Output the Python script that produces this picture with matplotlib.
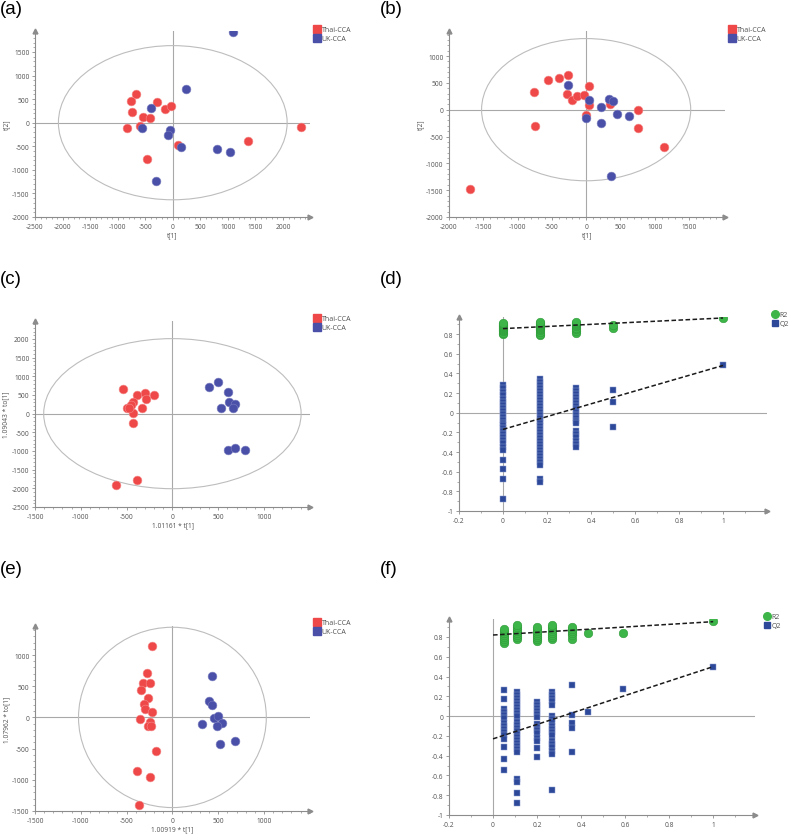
import matplotlib
matplotlib.use("Agg")
import matplotlib.pyplot as plt
import numpy as np
from matplotlib.patches import Ellipse
from matplotlib.lines import Line2D
from matplotlib.ticker import MultipleLocator, FuncFormatter

W, H = 793, 837

# ---- (a) PCA scores ----
a_thai_x = [-660, -750, -740, -540, -410, -280, -140, -40, -830, -600, -470, 90, 1370, 2330]
a_thai_y = [600, 460, 220, 130, 105, 440, 290, 360, -120, -60, -770, -470, -390, -85]
a_uk_x = [1090, 240, -400, -550, -50, -90, 145, 800, 1035, -310]
a_uk_y = [1915, 710, 320, -110, -155, -260, -505, -555, -615, -1235]
a_ellipse = (2075, 1635)

# ---- (b) PCA scores ----
b_thai_x = [-755, -555, -390, -260, -280, -210, -130, -25, 35, 45, -5, 345, 750, 760, -745, 1135, -1700]
b_thai_y = [320, 545, 590, 650, 300, 180, 250, 275, 440, 90, -95, 105, 0, -350, -310, -700, -1470]
b_uk_x = [-260, 45, 210, 335, 390, 450, 625, 210, 0, 360]
b_uk_y = [455, 180, 55, 200, 160, -75, -110, -250, -150, -1230]
b_ellipse = (1525, 1325)

# ---- (c) OPLS-DA scores ----
c_thai_x = [-535, -385, -300, -205, -290, -430, -455, -500, -330, -430, -430, -385, -615, -470]
c_thai_y = [670, 500, 545, 500, 395, 305, 220, 165, 145, 10, -255, -1790, -1920, 150]
c_uk_x = [400, 500, 610, 620, 685, 660, 535, 610, 680, 795]
c_uk_y = [725, 840, 590, 305, 255, 140, 145, -980, -930, -960]
c_ellipse = (1405, 2010)

# ---- (e) OPLS-DA scores ----
e_thai_x = [-225, -280, -320, -240, -340, -270, -310, -295, -220, -350, -245, -270, -235, -180, -390, -245, -365]
e_thai_y = [1145, 705, 555, 545, 440, 310, 220, 140, 90, -25, -75, -145, -140, -540, -860, -950, -1410]
e_uk_x = [430, 400, 430, 450, 500, 545, 490, 325, 520, 680]
e_uk_y = [670, 270, 205, -10, 15, -90, -140, -110, -420, -385]
e_ellipse = (1025, 1445)

# ---- (d) permutation test ----
d_x = [0, 0.167, 0.333, 0.5, 1.0]
d_r2 = [
    [0.80, 0.81, 0.83, 0.84, 0.85, 0.86, 0.87, 0.88, 0.89, 0.90, 0.91],
    [0.79, 0.80, 0.82, 0.84, 0.85, 0.86, 0.87, 0.88, 0.89, 0.90, 0.91, 0.92],
    [0.81, 0.83, 0.85, 0.86, 0.88, 0.89, 0.90, 0.91, 0.92],
    [0.86, 0.89],
    [0.96],
]
d_q2 = [
    [0.28, 0.25, 0.21, 0.18, 0.14, 0.11, 0.08, 0.05, 0.02, -0.01, -0.04, -0.07, -0.10,
     -0.13, -0.16, -0.19, -0.22, -0.25, -0.28, -0.31, -0.35, -0.38, -0.48, -0.57, -0.67, -0.88],
    [0.34, 0.31, 0.28, 0.25, 0.22, 0.19, 0.16, 0.13, 0.10, 0.07, 0.04, 0.01, -0.02, -0.05,
     -0.08, -0.11, -0.14, -0.17, -0.20, -0.23, -0.26, -0.29, -0.32, -0.35, -0.38, -0.41,
     -0.44, -0.47, -0.50, -0.53, -0.67, -0.70],
    [0.25, 0.22, 0.19, 0.16, 0.13, 0.10, 0.07, 0.04, 0.01, -0.02, -0.05, -0.08, -0.11,
     -0.19, -0.22, -0.25, -0.29, -0.32, -0.35],
    [0.23, 0.11, -0.15],
    [0.48],
]
d_r2_line = (0.855, 0.963)
d_q2_line = (-0.17, 0.48)

# ---- (f) permutation test ----
f_x = [0.05, 0.11, 0.2, 0.27, 0.36, 0.43, 0.59, 1.0]
f_r2 = [
    [0.74, 0.76, 0.78, 0.80, 0.82, 0.84, 0.86, 0.88],
    [0.78, 0.80, 0.82, 0.84, 0.86, 0.88, 0.90, 0.92],
    [0.76, 0.78, 0.80, 0.82, 0.84, 0.86, 0.88, 0.90],
    [0.78, 0.80, 0.82, 0.84, 0.86, 0.88, 0.90, 0.92],
    [0.78, 0.82, 0.84, 0.86, 0.88, 0.90],
    [0.845],
    [0.84],
    [0.96],
]
f_q2 = [
    [0.26, 0.17, 0.07, 0.04, 0.01, -0.02, -0.07, -0.10, -0.13, -0.16, -0.19, -0.23, -0.31, -0.43, -0.55],
    [0.24, 0.21, 0.18, 0.15, 0.12, 0.09, 0.06, 0.03, 0.0, -0.06, -0.09, -0.12, -0.15, -0.18,
     -0.21, -0.24, -0.27, -0.30, -0.33, -0.36, -0.64, -0.67, -0.78, -0.88],
    [0.14, 0.11, 0.08, 0.05, 0.02, -0.01, -0.08, -0.11, -0.14, -0.17, -0.22, -0.25, -0.32, -0.41],
    [0.24, 0.21, 0.18, 0.15, 0.11, 0.0, -0.03, -0.06, -0.10, -0.13, -0.16, -0.19, -0.25,
     -0.28, -0.31, -0.35, -0.38, -0.75],
    [0.31, 0.01, -0.07, -0.12, -0.36],
    [0.04],
    [0.27],
    [0.50],
]
f_r2_line = (0.82, 0.955)
f_q2_line = (-0.23, 0.50)

RED = "#ef4848"
BLUE = "#4a4fa8"
GREEN = "#3db548"
QBLUE = "#2d4899"
AXC = "#8c8c8c"
ZEROC = "#a8a8a8"
ELLC = "#bdbdbd"
TXT = "#505050"
TICKFONT = "Open Sans"

fig = plt.figure(figsize=(W / 100, H / 100), dpi=100)


def px_axes(left, top, right, bottom):
    return fig.add_axes([left / W, 1 - bottom / H, (right - left) / W, (bottom - top) / H])


def style_axes(ax, xticks, yticks, xminor, yminor, fmt):
    for s in ["top", "right"]:
        ax.spines[s].set_visible(False)
    for s in ["left", "bottom"]:
        ax.spines[s].set_color(AXC)
        ax.spines[s].set_linewidth(0.8)
    ax.set_xticks(xticks)
    ax.set_yticks(yticks)
    ax.xaxis.set_minor_locator(MultipleLocator(xminor))
    ax.yaxis.set_minor_locator(MultipleLocator(yminor))
    ax.xaxis.set_major_formatter(FuncFormatter(fmt))
    ax.yaxis.set_major_formatter(FuncFormatter(fmt))
    ax.tick_params(which="major", length=2.5, width=0.6, color=AXC, labelsize=4.8,
                   labelcolor=TXT, pad=1.5)
    ax.tick_params(which="minor", length=1.5, width=0.5, color=AXC)
    for lab in ax.get_xticklabels() + ax.get_yticklabels():
        lab.set_family(TICKFONT)
    ax.plot(1, 0, ">", transform=ax.transAxes, clip_on=False, color=AXC, ms=3.5)
    ax.plot(0, 1, "^", transform=ax.transAxes, clip_on=False, color=AXC, ms=3.5)
    ax.set_facecolor("none")


def int_fmt(v, pos):
    return f"{int(round(v))}"


def dec_fmt(v, pos):
    v = round(v, 2)
    if v == 0:
        return "0"
    return f"{v:g}"


def score_panel(rect, xlim, ylim, xticks, yticks, thai, uk, ell, xlabel, ylabel, leg):
    ax = px_axes(*rect)
    ax.set_xlim(*xlim)
    ax.set_ylim(*ylim)
    style_axes(ax, xticks, yticks, 100, 100, int_fmt)
    ax.axhline(0, color=ZEROC, lw=0.8, zorder=1)
    ax.axvline(0, color=ZEROC, lw=0.8, zorder=1)
    ax.add_patch(Ellipse((0, 0), 2 * ell[0], 2 * ell[1], fill=False, ec=ELLC, lw=0.8, zorder=1))
    ax.scatter(thai[0], thai[1], s=40, color=RED, edgecolors="#f58a8a", linewidths=0.4, zorder=3)
    ax.scatter(uk[0], uk[1], s=40, color=BLUE, edgecolors="#7c80c0", linewidths=0.4, zorder=3)
    ax.set_xlabel(xlabel, fontsize=4.8, color=TXT, labelpad=1.5, family=TICKFONT)
    ax.set_ylabel(ylabel, fontsize=4.8, color=TXT, labelpad=1.5, family=TICKFONT)
    handles = [Line2D([], [], ls="none", marker="s", ms=5.5, color=RED, label="Thai-CCA"),
               Line2D([], [], ls="none", marker="s", ms=5.5, color=BLUE, label="UK-CCA")]
    lg = ax.legend(handles=handles, loc="upper left", bbox_to_anchor=(leg[0] / W, 1 - leg[1] / H),
                   bbox_transform=fig.transFigure, frameon=False,
                   handlelength=0.8, handletextpad=0.3, labelspacing=0.35, borderpad=0,
                   borderaxespad=0, prop={"family": TICKFONT, "size": 5})
    for t in lg.get_texts():
        t.set_color(TXT)
    return ax


def perm_panel(rect, xlim, ylim, xs, r2, q2, r2_line, q2_line, leg):
    ax = px_axes(*rect)
    ax.set_xlim(*xlim)
    ax.set_ylim(*ylim)
    style_axes(ax, np.arange(-0.2, 1.01, 0.2), np.arange(-1, 0.81, 0.2), 0.1, 0.1, dec_fmt)
    ax.axhline(0, color=ZEROC, lw=0.8, zorder=1)
    ax.axvline(0, color=ZEROC, lw=0.8, zorder=1)
    rx = [x for x, col in zip(xs, r2) for _ in col]
    ry = [v for col in r2 for v in col]
    qx = [x for x, col in zip(xs, q2) for _ in col]
    qy = [v for col in q2 for v in col]
    ax.scatter(rx, ry, s=38, color=GREEN, edgecolors="#2f9a3a", linewidths=0.4, zorder=3)
    ax.scatter(qx, qy, s=20, marker="s", color=QBLUE, edgecolors="#8a9bd0", linewidths=0.35, zorder=3)
    ax.plot([0, 1], list(r2_line), ls=(0, (3, 1.6)), color="#1a1a1a", lw=1.1, zorder=4)
    ax.plot([0, 1], list(q2_line), ls=(0, (3, 1.6)), color="#1a1a1a", lw=1.1, zorder=4)
    handles = [Line2D([], [], ls="none", marker="o", ms=5.5, color=GREEN, label="R2"),
               Line2D([], [], ls="none", marker="s", ms=5, color=QBLUE, label="Q2")]
    lg = ax.legend(handles=handles, loc="upper left", bbox_to_anchor=(leg[0] / W, 1 - leg[1] / H),
                   bbox_transform=fig.transFigure, frameon=False,
                   handlelength=0.8, handletextpad=0.3, labelspacing=0.35, borderpad=0,
                   borderaxespad=0, prop={"family": TICKFONT, "size": 5})
    for t in lg.get_texts():
        t.set_color(TXT)
    return ax


score_panel((35, 32, 310, 218), (-2500, 2490), (-2000, 1945),
            np.arange(-2500, 2001, 500), np.arange(-2000, 1501, 500),
            (a_thai_x, a_thai_y), (a_uk_x, a_uk_y), a_ellipse, "t[1]", "t[2]", (314, 27))
score_panel((449, 32, 725, 218), (-2000, 2025), (-2000, 1466),
            np.arange(-2000, 1501, 500), np.arange(-2000, 1001, 500),
            (b_thai_x, b_thai_y), (b_uk_x, b_uk_y), b_ellipse, "t[1]", "t[2]", (729, 27))
score_panel((35, 322, 310, 508), (-1500, 1502), (-2500, 2482),
            np.arange(-1500, 1001, 500), np.arange(-2500, 2001, 500),
            (c_thai_x, c_thai_y), (c_uk_x, c_uk_y), c_ellipse,
            "1.01161 * t[1]", "1.09043 * to[1]", (314, 316))
score_panel((35, 627, 310, 812), (-1500, 1502), (-1500, 1465),
            np.arange(-1500, 1001, 500), np.arange(-1500, 1001, 500),
            (e_thai_x, e_thai_y), (e_uk_x, e_uk_y), e_ellipse,
            "1.00919 * t[1]", "1.07962 * to[1]", (314, 620))
perm_panel((459, 318, 767, 512), (-0.2, 1.2), (-1, 0.973), d_x, d_r2, d_q2,
           d_r2_line, d_q2_line, (772, 312))
perm_panel((449, 620, 755, 816), (-0.2, 1.19), (-1, 0.982), f_x, f_r2, f_q2,
           f_r2_line, f_q2_line, (764, 614))

for lab, x, y in [("(a)", 0, 1), ("(b)", 380, 1), ("(c)", 0, 271), ("(d)", 380, 271),
                  ("(e)", 0, 561), ("(f)", 380, 561)]:
    fig.text(x / W, 1 - y / H, lab, fontsize=13.5, family="Liberation Sans", va="top", ha="left")

fig.savefig("out.png", dpi=100)
